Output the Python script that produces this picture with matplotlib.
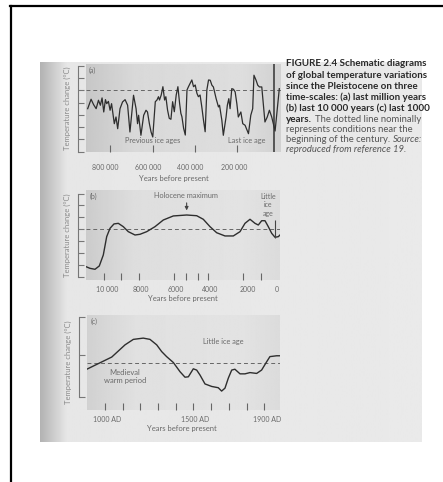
import numpy as np
import matplotlib.pyplot as plt
from matplotlib.lines import Line2D

plt.rcParams['font.family'] = ['Lato', 'DejaVu Sans']

# (a) last million years (thousands of years before present)
a_years = [907, 891, 879, 867, 856, 847, 839, 831, 823, 817,
           809, 801, 794, 781, 773, 765, 754, 742, 730, 718,
           707, 690, 678, 671, 666, 655, 642, 631, 624, 615,
           607, 599, 587, 579, 572, 567, 559, 551, 543, 537,
           529, 521, 513, 505, 497, 488, 480, 472, 466, 461,
           453, 445, 437, 430, 422, 414, 406, 398, 390, 383,
           375, 367, 359, 351, 343, 335, 327, 319, 312, 299,
           288, 283, 272, 265, 252, 246, 239, 233, 225, 217,
           209, 201, 194, 182, 173, 162, 146, 135, 126, 120,
           110, 102, 94, 83, 68, 57, 47, 36, 20, 0]
a_temp = [-1.49, -0.72, -1.16, -1.49, -0.80, -1.21, -0.61, -1.76, -0.75, -1.08,
          -0.89, -1.62, -1.08, -2.72, -2.17, -3.13, -1.49, -0.94, -0.75, -1.21,
          -3.40, -0.39, -1.49, -2.72, -2.03, -3.67, -2.03, -1.62, -1.76, -2.72,
          -3.40, -3.81, -0.92, -0.78, -0.51, -0.78, -0.37, 0.31, -0.78, -0.51,
          -1.60, -2.28, -2.36, -0.92, -1.74, -0.37, 0.31, -1.05, -1.87, -2.15,
          -3.10, -3.65, 0.04, 0.31, 0.59, 0.86, 0.31, 0.45, -0.23, -0.51,
          -0.37, -1.33, -2.42, -3.38, 0.04, 0.86, 0.84, 0.43, 0.29, -0.67,
          -1.35, -1.21, -2.44, -3.67, -2.17, -1.21, -0.67, -1.49, 0.15, 0.10,
          -0.12, -1.08, -2.17, -1.76, -2.72, -2.85, -3.54, -2.03, -1.49, 1.25,
          0.84, 0.43, 0.29, 0.29, -2.58, -2.17, -1.62, -2.17, -3.32, 0.15]
a_ticks = [800, 600, 400, 200]
a_label_pos = [822, 620, 424, 212]
a_labels = ['800 000', '600 000', '400 000', '200 000']

# (b) last 10 000 years (years before present)
b_years = [11034, 10805, 10517, 10270, 10040, 9845, 9655, 9425, 9178, 8891,
           8603, 8218, 7931, 7546, 7069, 6592, 6017, 5247, 4672, 4293,
           3908, 3523, 3046, 2569, 2184, 1897, 1609, 1322, 1132, 937,
           747, 557, 362, 172, -17, -115]
b_temp = [-3.14, -3.28, -3.36, -3.08, -2.16, -0.62, 0.08, 0.45, 0.50, 0.22,
          -0.20, -0.48, -0.42, -0.20, 0.22, 0.78, 1.12, 1.20, 1.14, 0.84,
          0.22, -0.29, -0.56, -0.56, -0.20, 0.50, 0.84, 0.50, 0.36, 0.72,
          0.72, 0.22, -0.34, -0.67, -0.62, -0.48]
b_ticks = [10000, 9000, 8000, 6000, 5300, 4600, 4000, 2000, 1000]
b_label_pos = [9800, 7900, 5850, 3900, 1750, 50]
b_labels = ['10 000', '8000', '6000', '4000', '2000', '0']

# (c) last 1000 years (calendar year AD)
c_years = [897, 1038, 1113, 1160, 1216, 1254, 1292, 1320, 1348, 1386,
           1424, 1452, 1471, 1499, 1518, 1537, 1565, 1603, 1640, 1659,
           1678, 1697, 1716, 1734, 1763, 1791, 1819, 1857, 1885, 1914,
           1932, 1970, 1989]
c_temp = [-0.15, 0.14, 0.43, 0.56, 0.59, 0.56, 0.43, 0.27, 0.15, 0.01,
          -0.21, -0.34, -0.33, -0.14, -0.17, -0.29, -0.50, -0.56, -0.59, -0.67,
          -0.60, -0.36, -0.17, -0.15, -0.26, -0.26, -0.23, -0.25, -0.17, 0.03,
          0.15, 0.17, 0.17]
c_ticks = list(range(1000, 1901, 100))
c_label_pos = [1010, 1510, 1915]
c_labels = ['1000 AD', '1500 AD', '1900 AD']

W, H = 443, 482
fig = plt.figure(figsize=(W / 100, H / 100), dpi=100)
fig.patch.set_facecolor('white')


def rect(x0, y0, x1, y1):
    return [x0 / W, 1 - y1 / H, (x1 - x0) / W, (y1 - y0) / H]


# scanned page with darker gutter on the left
page = fig.add_axes(rect(40, 62, 422, 442))
page.axis('off')
g = np.interp(np.linspace(0, 1, 400), [0, 0.07, 1], [0.70, 0.905, 0.915])
page.imshow(g[None, :], cmap='gray', vmin=0, vmax=1, aspect='auto', extent=[0, 1, 0, 1])

fig.add_artist(Line2D([10.5 / W, 10.5 / W], [0, 1 - 6 / H], color='black', lw=1.6))
fig.add_artist(Line2D([10 / W, 1], [1 - 6 / H, 1 - 6 / H], color='black', lw=1.6))

line_col = '#2e2e2e'
text_col = '#6a6a6a'


def panel(box, shade, xlim, ylim, yticks, xticks, label_pos, labels, label_dy, xlabel_dy, xlabel_x):
    ax = fig.add_axes(rect(*box))
    grad = np.interp(np.linspace(0, 1, 300), [0, 0.25, 0.8, 1], shade)
    ax.imshow(grad[None, :], cmap='gray', vmin=0, vmax=1, aspect='auto',
              extent=[0, 1, 0, 1], transform=ax.transAxes, zorder=0)
    ax.set_xlim(*xlim)
    ax.set_ylim(*ylim)
    for s in ['top', 'right', 'bottom']:
        ax.spines[s].set_visible(False)
    ax.spines['left'].set_position(('outward', 6))
    ax.spines['left'].set_color('#777777')
    ax.spines['left'].set_linewidth(0.8)
    ax.spines['left'].set_bounds(min(yticks), max(yticks))
    ax.set_yticks(yticks)
    ax.set_yticklabels([])
    ax.tick_params(axis='y', direction='in', length=4.5, width=0.8, color='#777777')
    ax.set_xticks(xticks)
    ax.set_xticklabels([])
    ax.tick_params(axis='x', direction='in', length=5, width=0.8, color='#666666')
    for pos, lab in zip(label_pos, labels):
        ax.annotate(lab, xy=(pos, 0), xycoords=('data', 'axes fraction'),
                    xytext=(0, -label_dy * 0.72), textcoords='offset points',
                    ha='center', va='center', fontsize=5, color=text_col)
    ax.annotate('Years before present', xy=(xlabel_x, 0), xycoords='axes fraction',
                xytext=(0, -xlabel_dy * 0.72), textcoords='offset points',
                ha='center', va='center', fontsize=5.5, color=text_col)
    ax.set_ylabel('Temperature change (°C)', fontsize=5.5, color='#8a8a8a', labelpad=1)
    ax.axhline(0, color='#666666', lw=0.7, ls=(0, (4, 3)), zorder=2)
    return ax


# (a)
ax = panel((86, 64, 281, 152), [0.78, 0.85, 0.87, 0.82], (915, -8),
           (-5.04, 2.17), [-5, -4, -3, -2, -1, 0, 1, 2],
           a_ticks, a_label_pos, a_labels, 15, 27, 0.45)
ax.plot(a_years, a_temp, color=line_col, lw=0.9, zorder=3)
ax.axvline(23, color='#555555', lw=1.4, zorder=2)
ax.text(0.015, 0.97, '(a)', transform=ax.transAxes, fontsize=5, color=text_col, va='top')
ax.text(597, -4.06, 'Previous ice ages', fontsize=5.3, color=text_col, ha='center', va='center')
ax.text(153, -4.06, 'Last ice age', fontsize=5.3, color=text_col, ha='center', va='center')

# (b)
ax = panel((86, 190, 280, 280), [0.80, 0.87, 0.89, 0.86], (11034, -115),
           (-4.26, 3.30), [-4, -3, -2, -1, 0, 1, 2, 3],
           b_ticks, b_label_pos, b_labels, 9, 19, 0.5)
ax.plot(b_years, b_temp, color=line_col, lw=1.0, zorder=3)
ax.text(0.02, 0.97, '(b)', transform=ax.transAxes, fontsize=5, color=text_col, va='top')
ax.text(5300, 2.85, 'Holocene maximum', fontsize=5.3, color=text_col, ha='center', va='center')
ax.annotate('', xy=(5250, 1.35), xytext=(5250, 2.45),
            arrowprops=dict(arrowstyle='-|>', color='#444444', lw=0.8, mutation_scale=5))
ax.text(575, 2.05, 'Little\nice\nage', fontsize=5, color=text_col, ha='center', va='center',
        linespacing=1.3)
ax.vlines(170, -0.72, 0.75, color='#444444', lw=0.8, zorder=3)

# (c)
ax = panel((87, 315, 280, 410), [0.82, 0.88, 0.89, 0.86], (898, 1989),
           (-1.12, 1.14), [-0.8, 0.2, 1.1],
           c_ticks, c_label_pos, c_labels, 9, 18, 0.49)
ax.plot(c_years, c_temp, color=line_col, lw=1.0, zorder=3)
ax.text(0.02, 0.97, '(c)', transform=ax.transAxes, fontsize=5, color=text_col, va='top')
ax.text(1667, 0.52, 'Little ice age', fontsize=5.3, color=text_col, ha='center', va='center')
ax.text(1113, -0.32, 'Medieval\nwarm period', fontsize=5.5, color=text_col, ha='center',
        va='center', linespacing=1.2)

# caption on the right
cap_x = 286 / W
bold_size, norm_size = 7.1, 6.8
bold_lines = [('FIGURE 2.4 Schematic diagrams', 64),
              ('of global temperature variations', 75.3),
              ('since the Pleistocene on three', 86.3),
              ('time-scales: (a) last million years', 97.3),
              ('(b) last 10 000 years (c) last 1000', 108.5)]
for s, y in bold_lines:
    fig.text(cap_x, 1 - y / H, s, fontsize=bold_size, fontweight='bold', color='#2a2a2a',
             va='center')

renderer = fig.canvas.get_renderer()
t = fig.text(cap_x, 1 - 119 / H, 'years.', fontsize=bold_size, fontweight='bold',
             color='#2a2a2a', va='center')
w = t.get_window_extent(renderer=renderer).width
fig.text(cap_x + (w + 3) / W, 1 - 119 / H, 'The dotted line nominally', fontsize=norm_size,
         color='#555555', va='center')
fig.text(cap_x, 1 - 129.3 / H, 'represents conditions near the', fontsize=norm_size,
         color='#555555', va='center')
t = fig.text(cap_x, 1 - 139.3 / H, 'beginning of the century.', fontsize=norm_size,
             color='#555555', va='center')
w = t.get_window_extent(renderer=renderer).width
fig.text(cap_x + (w + 3) / W, 1 - 139.3 / H, 'Source:', fontsize=norm_size, style='italic',
         color='#555555', va='center')
fig.text(cap_x, 1 - 149.3 / H, 'reproduced from reference 19.', fontsize=norm_size,
         style='italic', color='#555555', va='center')

fig.savefig('out.png', dpi=100)
